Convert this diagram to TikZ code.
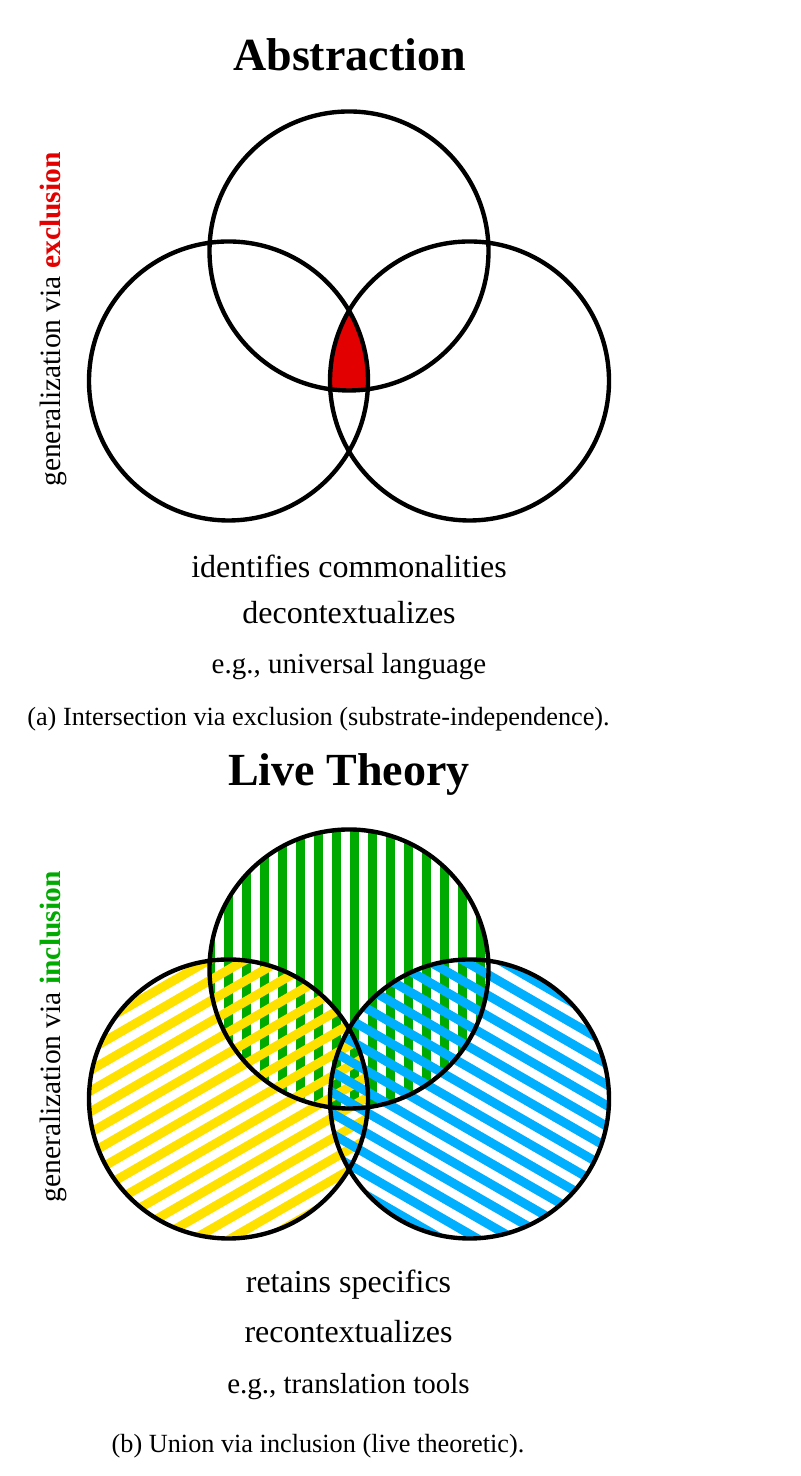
\documentclass[tikz,border=0pt]{standalone}
\usepackage{fontspec}
\setmainfont{Liberation Serif}

\definecolor{exclred}{RGB}{226,0,0}
\definecolor{inclgreen}{RGB}{0,170,0}
\definecolor{setyellow}{RGB}{255,225,0}
\definecolor{setblue}{RGB}{0,176,255}

% stripes inside one circle: centre, angle, colour, phase
\newcommand{\hatchcircle}[4]{%
  \begin{scope}[shift={(#1)},rotate=#2]
    \clip (0,0) circle (13.95);
    \foreach \k in {-9,...,9}
      \draw[#3,line width=3.6pt] (-15,\k*1.8+#4) -- (15,\k*1.8+#4);
  \end{scope}}

\begin{document}
\begin{tikzpicture}[x=4pt,y=4pt,
  venn/.style={draw,line width=1.75pt},
  heading/.style={anchor=base,font=\fontsize{18.4}{22}\selectfont\bfseries},
  remark/.style={anchor=base,font=\fontsize{12.8}{15}\selectfont},
  example/.style={anchor=base,font=\fontsize{11.6}{14}\selectfont},
  sidelabel/.style={anchor=base,rotate=90,font=\fontsize{11.8}{14}\selectfont},
  subcaption/.style={anchor=base,font=\fontsize{10.5}{13}\selectfont}]
  \useasboundingbox (0,0) rectangle (80.1,147.6);

  % (a) abstraction
  \coordinate (la) at (22.85,109.5);
  \coordinate (ta) at (34.9,122.5);
  \coordinate (ra) at (46.95,109.5);
  \begin{scope}
    \clip (la) circle (13.95);
    \clip (ta) circle (13.95);
    \fill[exclred] (ra) circle (13.95);
  \end{scope}
  \draw[venn] (la) circle (13.95);
  \draw[venn] (ta) circle (13.95);
  \draw[venn] (ra) circle (13.95);

  \node[heading] (absttitle) at (34.95,140.53) {Abstraction};
  \node[sidelabel] (abstside) at (6.05,115.65)
    {generalization via \textbf{\textcolor{exclred}{exclusion}}};
  \node[remark] (abstone) at (34.9,89.87) {identifies commonalities};
  \node[remark] (absttwo) at (34.9,85.27) {decontextualizes};
  \node[example] (abstex) at (34.9,80.2) {e.g., universal language};
  \node[subcaption] (abstcap) at (31.85,75.0)
    {(a) Intersection via exclusion (substrate-independence).};

  % (b) live theory
  \coordinate (lb) at (22.85,37.7);
  \coordinate (tb) at (34.9,50.7);
  \coordinate (rb) at (46.95,37.7);
  \hatchcircle{tb}{90}{inclgreen}{1.22}
  \hatchcircle{lb}{30}{setyellow}{0.4}
  \hatchcircle{rb}{-30}{setblue}{0.9}
  \draw[venn] (lb) circle (13.95);
  \draw[venn] (tb) circle (13.95);
  \draw[venn] (rb) circle (13.95);

  \node[heading] (livetitle) at (34.9,69.0) {Live Theory};
  \node[sidelabel] (liveside) at (6.05,43.9)
    {generalization via \textbf{\textcolor{inclgreen}{inclusion}}};
  \node[remark] (liveone) at (34.85,18.37) {retains specifics};
  \node[remark] (livetwo) at (34.85,13.37) {recontextualizes};
  \node[example] (liveex) at (34.85,8.27) {e.g., translation tools};
  \node[subcaption] (livecap) at (31.8,2.33)
    {(b) Union via inclusion (live theoretic).};
\end{tikzpicture}
\end{document}
